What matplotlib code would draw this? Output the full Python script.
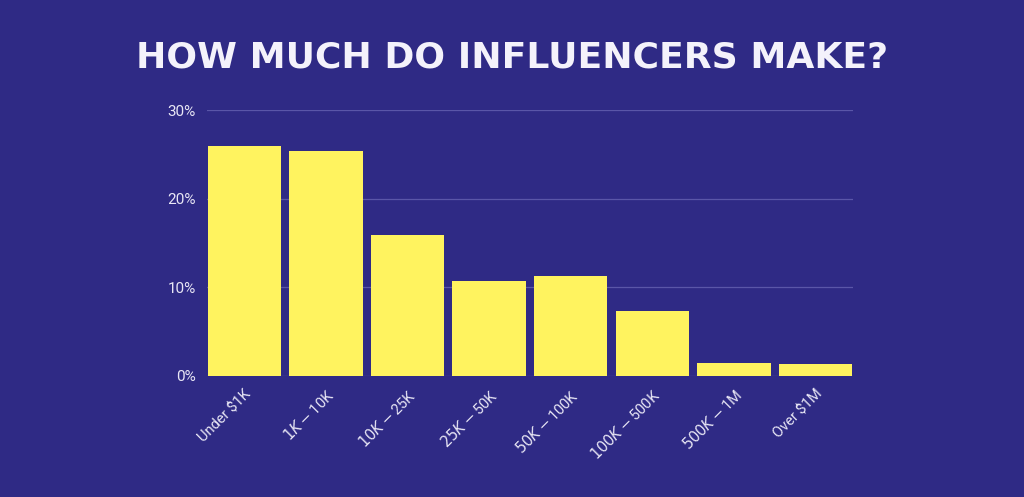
import matplotlib
matplotlib.use("Agg")
import matplotlib.pyplot as plt

categories = ["Under $1K", "$1K - $10K", "$10K - $25K", "$25K - $50K", "$50K - $100K", "$100K - $500K", "$500K - $1M", "Over $1M"]
values = [25.9, 25.4, 15.9, 10.7, 11.3, 7.3, 1.5, 1.35]
yticks = [0, 10, 20, 30]
ytick_labels = ["0%", "10%", "20%", "30%"]

bg = "#2f2a85"
fig = plt.figure(figsize=(10.24, 4.97), dpi=100, facecolor=bg)
ax = fig.add_axes([0.202, 0.2435, 0.631, 0.535], facecolor=bg)
ax.bar(range(len(categories)), values, width=0.9, color="#fff35f", zorder=3)
ax.set_xlim(-0.46, len(categories) - 0.54)
ax.set_ylim(0, 30)
ax.set_yticks(yticks)
ax.set_yticklabels(ytick_labels, color="#e8e6f5", fontsize=11, fontfamily="Roboto")
ax.yaxis.grid(True, color="#5a56a8", linewidth=0.9, zorder=0)
ax.set_xticks(range(len(categories)))
ax.set_xticklabels(categories, rotation=45, ha="right", rotation_mode="anchor",
                   color="#e8e6f5", fontsize=10.5, fontfamily="Roboto")
ax.tick_params(length=0, pad=8)
for s in ax.spines.values():
    s.set_visible(False)
fig.text(0.5, 0.885, "HOW MUCH DO INFLUENCERS MAKE?", ha="center", va="center",
         color="#f4f2fb", fontsize=26, fontweight="black", fontfamily="DejaVu Sans")
fig.savefig("out.png", dpi=100, facecolor=bg)
